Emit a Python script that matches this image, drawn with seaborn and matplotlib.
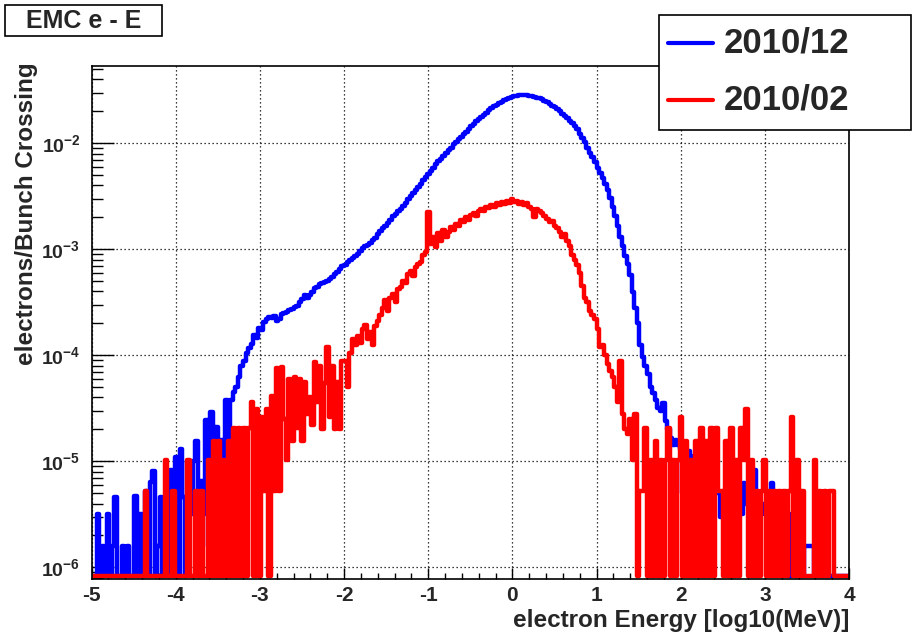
import numpy as np
import pandas as pd
import matplotlib
matplotlib.use("Agg")
import matplotlib.pyplot as plt
from matplotlib.ticker import FixedLocator, MultipleLocator, LogLocator, NullFormatter, FuncFormatter
from matplotlib.lines import Line2D
from matplotlib.patches import Rectangle
import seaborn as sns

# ---- histogram binning: log10(E/MeV) from -5 to 4 ----
X_LO, X_HI, N_BINS = -5.0, 4.0, 300

# electrons per bunch crossing, 2010/12 run (blue)
dec_lo = [
    0, 0, 3.2e-6, 0, 1.6e-6, 0, 3.2e-6, 0, 1.6e-6, 4.6e-6,
    0, 0, 1.6e-6, 0, 1.6e-6, 0, 0, 4.7e-6, 0, 3.2e-6,
    0, 5.3e-6, 0, 6.4e-6, 8.1e-6, 0, 1.6e-6, 4.6e-6, 0, 4.6e-6,
    0, 8.2e-6, 0, 1.1e-5, 0, 1.3e-5, 4.6e-6, 0, 1.0e-5, 3.2e-6,
    1.0e-5, 1.55e-5, 0, 6.5e-6, 3.2e-6, 2.45e-5, 1.6e-6, 2.95e-5, 1.1e-5, 2.1e-5,
    4.8e-6, 1.6e-5, 8.0e-6, 3.8e-5, 1.6e-5, 3.8e-5, 4.5e-5, 5.0e-5, 6.3e-5, 7.9e-5,
    8.9e-5, 1.05e-4, 1.17e-4, 1.29e-4, 1.55e-4, 1.45e-4, 1.8e-4, 1.75e-4, 2.04e-4, 2.19e-4,
    2.29e-4, 2.24e-4, 2.34e-4, 2.1e-4, 2.2e-4, 2.45e-4, 2.51e-4, 2.57e-4, 2.69e-4, 2.75e-4,
    2.88e-4, 2.95e-4, 3.16e-4, 3.39e-4, 3.7e-4, 3.5e-4, 3.72e-4, 3.98e-4, 4.27e-4, 4.37e-4,
    4.68e-4, 4.79e-4, 4.9e-4, 5.01e-4, 5.25e-4, 5.5e-4, 5.89e-4, 6.17e-4, 6.46e-4, 6.92e-4,
]
dec_mid = [
    7.08e-4, 7.59e-4, 7.94e-4, 8.32e-4, 8.71e-4, 9.12e-4, 9.55e-4, 1.02e-3, 1.07e-3, 1.10e-3,
    1.15e-3, 1.23e-3, 1.29e-3, 1.38e-3, 1.48e-3, 1.58e-3, 1.66e-3, 1.78e-3, 1.91e-3, 2.04e-3,
    2.14e-3, 2.29e-3, 2.40e-3, 2.57e-3, 2.75e-3, 2.95e-3, 3.16e-3, 3.39e-3, 3.63e-3, 3.89e-3,
    4.17e-3, 4.47e-3, 4.79e-3, 5.13e-3, 5.50e-3, 5.89e-3, 6.31e-3, 6.76e-3, 7.08e-3, 7.59e-3,
    8.13e-3, 8.71e-3, 9.12e-3, 9.77e-3, 1.02e-2, 1.10e-2, 1.15e-2, 1.23e-2, 1.29e-2, 1.35e-2,
    1.45e-2, 1.51e-2, 1.62e-2, 1.70e-2, 1.78e-2, 1.86e-2, 1.95e-2, 2.04e-2, 2.14e-2, 2.24e-2,
    2.29e-2, 2.40e-2, 2.45e-2, 2.57e-2, 2.63e-2, 2.69e-2, 2.75e-2, 2.82e-2, 2.82e-2, 2.85e-2,
    2.88e-2, 2.85e-2, 2.85e-2, 2.82e-2, 2.79e-2, 2.75e-2, 2.69e-2, 2.66e-2, 2.60e-2, 2.51e-2,
    2.45e-2, 2.34e-2, 2.26e-2, 2.19e-2, 2.09e-2, 2.00e-2, 1.91e-2, 1.82e-2, 1.74e-2, 1.62e-2,
    1.55e-2, 1.45e-2, 1.35e-2, 1.23e-2, 1.12e-2, 1.02e-2, 9.12e-3, 8.13e-3, 7.41e-3, 6.61e-3,
]
dec_hi = [
    5.89e-3, 5.25e-3, 4.68e-3, 4.17e-3, 3.63e-3, 3.02e-3, 2.51e-3, 2.04e-3, 1.66e-3, 1.32e-3,
    1.07e-3, 8.71e-4, 7.24e-4, 5.75e-4, 3.98e-4, 2.82e-4, 2.00e-4, 1.26e-4, 9.55e-5, 7.94e-5,
    6.61e-5, 5.01e-5, 4.37e-5, 3.80e-5, 3.16e-5, 3.0e-5, 3.55e-5, 2.4e-5, 2.0e-5, 1.66e-5,
    1.41e-5, 1.58e-5, 1.41e-5, 1.32e-5, 5.0e-6, 5.6e-6, 1.26e-5, 1.12e-5, 1.0e-5, 1.05e-5,
    8.9e-6, 1.1e-5, 1.1e-5, 7.9e-6, 7.9e-6, 7.1e-6, 6.3e-6, 5.0e-6, 5.0e-6, 3.0e-6,
    5.0e-6, 5.0e-6, 6.3e-6, 6.6e-6, 5.0e-6, 4.0e-6, 5.0e-6, 3.2e-6, 6.3e-6, 4.0e-6,
    5.0e-6, 6.3e-6, 8.3e-6, 5.3e-6, 4.0e-6, 3.2e-6, 4.0e-6, 3.2e-6, 5.0e-6, 6.3e-6,
    3.2e-6, 3.2e-6, 1.6e-6, 1.6e-6, 3.2e-6, 1.6e-6, 0, 3.2e-6, 1.6e-6, 0,
    1.6e-6, 0, 1.6e-6, 1.6e-6, 1.6e-6, 1.6e-6, 0, 1.6e-6, 0, 0,
    0, 0, 0, 0, 0, 0, 0, 0, 0, 0,
]

# electrons per bunch crossing, 2010/02 run (red)
feb_lo = [
    0, 0, 0, 0, 0, 0, 0, 0, 0, 0,
    0, 0, 0, 0, 0, 0, 0, 0, 0, 0,
    0, 5.2e-6, 0, 0, 0, 0, 0, 0, 0, 1.04e-5,
    0, 0, 5.2e-6, 0, 0, 0, 0, 0, 1.04e-5, 0,
    0, 5.2e-6, 0, 5.2e-6, 0, 0, 1.04e-5, 0, 1.56e-5, 0,
    1.56e-5, 0, 1.04e-5, 0, 1.56e-5, 0, 2.08e-5, 0, 2.08e-5, 0,
    2.08e-5, 0, 2.08e-5, 3.64e-5, 0, 3.12e-5, 0, 2.6e-5, 5.2e-6, 3.12e-5,
    0, 4.16e-5, 5.2e-6, 7.6e-5, 5.2e-6, 7.8e-5, 2.5e-5, 1.04e-5, 6.0e-5, 1.56e-5,
    6.3e-5, 2.08e-5, 6.0e-5, 1.56e-5, 5.6e-5, 2.8e-5, 4.0e-5, 2.2e-5, 8.7e-5, 3.6e-5,
    7.9e-5, 2.0e-5, 5.5e-5, 1.2e-4, 2.6e-5, 7.9e-5, 2.0e-5, 5.6e-5, 2.0e-5, 8.9e-5,
]
feb_mid = [
    8.9e-5, 5.0e-5, 1.05e-4, 1.41e-4, 1.26e-4, 1.51e-4, 1.32e-4, 1.78e-4, 1.95e-4, 1.41e-4,
    1.66e-4, 1.26e-4, 1.9e-4, 2.1e-4, 2.4e-4, 2.8e-4, 3.3e-4, 2.6e-4, 3.5e-4, 3.8e-4,
    3.2e-4, 4.2e-4, 4.4e-4, 5.0e-4, 4.8e-4, 5.8e-4, 6.3e-4, 5.6e-4, 6.8e-4, 7.2e-4,
    7.6e-4, 8.9e-4, 9.5e-4, 2.24e-3, 1.12e-3, 1.32e-3, 1.05e-3, 1.41e-3, 1.2e-3, 1.51e-3,
    1.32e-3, 1.45e-3, 1.62e-3, 1.51e-3, 1.74e-3, 1.66e-3, 1.9e-3, 1.82e-3, 2.0e-3, 1.9e-3,
    2.09e-3, 2.19e-3, 2.04e-3, 2.29e-3, 2.4e-3, 2.29e-3, 2.51e-3, 2.45e-3, 2.63e-3, 2.51e-3,
    2.75e-3, 2.63e-3, 2.82e-3, 2.69e-3, 2.88e-3, 2.75e-3, 2.95e-3, 2.82e-3, 2.88e-3, 2.69e-3,
    2.82e-3, 2.63e-3, 2.75e-3, 2.51e-3, 2.4e-3, 2.0e-3, 2.4e-3, 2.29e-3, 2.19e-3, 2.04e-3,
    1.95e-3, 1.82e-3, 1.86e-3, 1.66e-3, 1.58e-3, 1.45e-3, 1.32e-3, 1.38e-3, 1.2e-3, 1.07e-3,
    8.9e-4, 7.9e-4, 7.1e-4, 6.0e-4, 4.5e-4, 3.5e-4, 3.2e-4, 2.6e-4, 2.4e-4, 2.2e-4,
]
feb_hi = [
    1.78e-4, 1.2e-4, 1.26e-4, 1.0e-4, 8.3e-5, 7.1e-5, 6.3e-5, 5.0e-5, 3.6e-5, 8.9e-5,
    2.8e-5, 2.0e-5, 1.8e-5, 2.5e-5, 1.04e-5, 2.8e-5, 0, 5.2e-6, 5.2e-6, 2.08e-5,
    0, 1.04e-5, 0, 1.56e-5, 0, 1.04e-5, 0, 1.04e-5, 2.08e-5, 0,
    1.04e-5, 0, 1.04e-5, 2.6e-5, 0, 1.56e-5, 0, 1.04e-5, 0, 1.56e-5,
    0, 2.08e-5, 0, 1.56e-5, 0, 2.08e-5, 0, 2.08e-5, 5.2e-6, 5.2e-6,
    0, 1.56e-5, 0, 2.08e-5, 0, 1.04e-5, 0, 2.08e-5, 1.04e-5, 3.12e-5,
    0, 1.04e-5, 0, 5.2e-6, 0, 5.2e-6, 1.04e-5, 0, 5.2e-6, 0,
    5.2e-6, 0, 5.2e-6, 0, 5.2e-6, 0, 5.2e-6, 2.6e-5, 0, 1.04e-5,
    0, 5.2e-6, 0, 0, 0, 0, 1.04e-5, 0, 5.2e-6, 0,
    5.2e-6, 0, 5.2e-6, 5.2e-6, 0, 0, 0, 0, 0, 0,
]

series_labels = ["2010/12", "2010/02"]
x_tick_values = [-5, -4, -3, -2, -1, 0, 1, 2, 3, 4]
y_tick_values = [1e-6, 1e-5, 1e-4, 1e-3, 1e-2]

BLUE, RED = "#0000ff", "#ff0000"
Y_MIN, Y_MAX = 7.76e-7, 5.36e-2
EMPTY_LEVEL = 8.3e-7   # empty bins sit on the frame floor, as on a ROOT log pad

sns.set_style("ticks")
plt.rcParams["font.family"] = ["Liberation Sans", "DejaVu Sans"]
plt.rcParams["font.weight"] = "bold"
plt.rcParams["mathtext.fontset"] = "custom"
plt.rcParams["mathtext.rm"] = "Liberation Sans:bold"
plt.rcParams["mathtext.bf"] = "Liberation Sans:bold"
plt.rcParams["axes.unicode_minus"] = False

W, H = 913, 635
fig = plt.figure(figsize=(W / 100, H / 100), dpi=100)
fig.patch.set_facecolor("white")
L, R, T, B = 91.5, 849.0, 66.0, 579.0
ax = fig.add_axes([L / W, (H - B) / H, (R - L) / W, (B - T) / H])

edges = np.linspace(X_LO, X_HI, N_BINS + 1)
centers = 0.5 * (edges[:-1] + edges[1:])
blue_vals = np.array(dec_lo + dec_mid + dec_hi, dtype=float)
red_vals = np.array(feb_lo + feb_mid + feb_hi, dtype=float)

for vals, col in ((blue_vals, BLUE), (red_vals, RED)):
    frame = pd.DataFrame({"logE": centers,
                          "rate": np.where(vals > 0, vals, EMPTY_LEVEL)})
    sns.histplot(data=frame, x="logE", weights="rate", bins=N_BINS,
                 binrange=(X_LO, X_HI), element="step", fill=False,
                 color=col, linewidth=3.2, ax=ax)

ax.set_yscale("log")
ax.set_xlim(X_LO, X_HI)
ax.set_ylim(Y_MIN, Y_MAX)
ax.set_xlabel("")
ax.set_ylabel("")

# axes, ticks, grid in ROOT fashion
ax.xaxis.set_major_locator(FixedLocator(x_tick_values))
ax.xaxis.set_minor_locator(MultipleLocator(0.2))
ax.xaxis.set_major_formatter(FuncFormatter(lambda v, _: f"{int(round(v))}"))
ax.yaxis.set_major_locator(FixedLocator(y_tick_values))
ax.yaxis.set_minor_locator(LogLocator(base=10, subs=np.arange(2, 10)))
ax.yaxis.set_minor_formatter(NullFormatter())
ax.yaxis.set_major_formatter(FuncFormatter(
    lambda v, _: r"$\mathbf{10^{%d}}$" % int(round(np.log10(v)))))

ax.tick_params(axis="both", which="both", direction="in", top=False, right=False,
               width=1.0, color="black")
ax.tick_params(axis="x", which="major", length=8, labelsize=15, pad=5)
ax.tick_params(axis="x", which="minor", length=4.5)
ax.tick_params(axis="y", which="major", length=16, labelsize=14, pad=8)
ax.tick_params(axis="y", which="minor", length=8)
for lab in ax.get_xticklabels() + ax.get_yticklabels():
    lab.set_fontweight("bold")

ax.grid(True, which="major", color="black", linestyle=(0, (1, 2.2)), linewidth=0.9)
for sp in ax.spines.values():
    sp.set_visible(True)
    sp.set_color("black")
    sp.set_linewidth(1.2)

# axis titles
fig.text(R / W, 1 - 620 / H, "electron Energy [log10(MeV)]", ha="right", va="center",
         fontsize=17.5, fontweight="bold")
fig.text(27 / W, 1 - 62 / H, "electrons/Bunch Crossing", rotation=90, ha="center",
         va="top", fontsize=17.5, fontweight="bold")

# histogram title box
fig.add_artist(Rectangle((5 / W, 1 - 36 / H), 157 / W, 31 / H, transform=fig.transFigure,
                         facecolor="white", edgecolor="black", linewidth=1.2))
fig.text(83.5 / W, 1 - 21 / H, "EMC e - E", ha="center", va="center",
         fontsize=18, fontweight="bold")

# legend box
fig.add_artist(Rectangle((659 / W, 1 - 130 / H), 252 / W, 115 / H, transform=fig.transFigure,
                         facecolor="white", edgecolor="black", linewidth=1.2, zorder=5))
for lab, col, yy in zip(series_labels, (BLUE, RED), (43, 100)):
    fig.add_artist(Line2D([668 / W, 713 / W], [1 - yy / H, 1 - yy / H],
                          transform=fig.transFigure, color=col, linewidth=3.0, zorder=6))
    fig.text(724 / W, 1 - yy / H, lab, ha="left", va="center", fontsize=25,
             fontweight="bold", zorder=7)

fig.savefig("out.png", dpi=100, facecolor="white")
